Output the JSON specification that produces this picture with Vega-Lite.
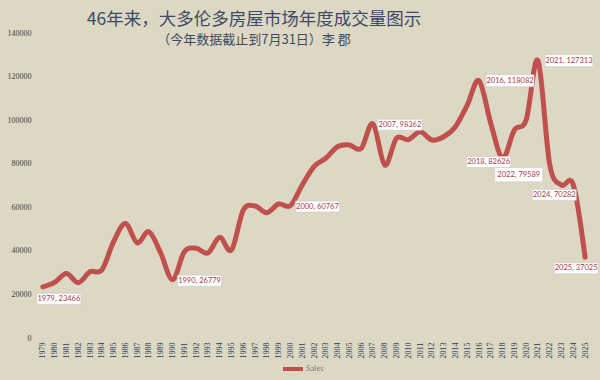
{
  "$schema": "https://vega.github.io/schema/vega-lite/v6.json",
  "width": 554,
  "height": 305,
  "autosize": {"type": "none"},
  "padding": {"left": 37, "top": 33, "right": 9, "bottom": 42},
  "background": "#ddd8c4",
  "title": {
    "text": "46年来，大多伦多房屋市场年度成交量图示",
    "subtitle": "（今年数据截止到7月31日）李 郡",
    "font": "Noto Sans CJK SC",
    "fontSize": 17.5,
    "fontWeight": "normal",
    "color": "#3d4a63",
    "subtitleFont": "Noto Sans CJK SC",
    "subtitleFontSize": 13,
    "subtitleColor": "#3d4a63",
    "subtitlePadding": 6,
    "anchor": "middle",
    "dx": -60,
    "offset": -18
  },
  "config": {"view": {"stroke": null}},
  "data": {
    "values": [
      {"Year": 1979, "Sales": 23466},
      {"Year": 1980, "Sales": 25500},
      {"Year": 1981, "Sales": 29600},
      {"Year": 1982, "Sales": 25400},
      {"Year": 1983, "Sales": 30400},
      {"Year": 1984, "Sales": 31200},
      {"Year": 1985, "Sales": 44200},
      {"Year": 1986, "Sales": 52600},
      {"Year": 1987, "Sales": 43700},
      {"Year": 1988, "Sales": 48800},
      {"Year": 1989, "Sales": 38900},
      {"Year": 1990, "Sales": 26779},
      {"Year": 1991, "Sales": 39600},
      {"Year": 1992, "Sales": 41200},
      {"Year": 1993, "Sales": 39000},
      {"Year": 1994, "Sales": 46200},
      {"Year": 1995, "Sales": 40400},
      {"Year": 1996, "Sales": 58700},
      {"Year": 1997, "Sales": 60600},
      {"Year": 1998, "Sales": 57500},
      {"Year": 1999, "Sales": 61500},
      {"Year": 2000, "Sales": 60767},
      {"Year": 2001, "Sales": 70200},
      {"Year": 2002, "Sales": 78700},
      {"Year": 2003, "Sales": 82500},
      {"Year": 2004, "Sales": 87800},
      {"Year": 2005, "Sales": 88600},
      {"Year": 2006, "Sales": 87000},
      {"Year": 2007, "Sales": 98362},
      {"Year": 2008, "Sales": 79400},
      {"Year": 2009, "Sales": 91700},
      {"Year": 2010, "Sales": 91000},
      {"Year": 2011, "Sales": 94700},
      {"Year": 2012, "Sales": 90900},
      {"Year": 2013, "Sales": 92400},
      {"Year": 2014, "Sales": 97000},
      {"Year": 2015, "Sales": 106900},
      {"Year": 2016, "Sales": 118082},
      {"Year": 2017, "Sales": 98500},
      {"Year": 2018, "Sales": 82626},
      {"Year": 2019, "Sales": 95500},
      {"Year": 2020, "Sales": 100100},
      {"Year": 2021, "Sales": 127313},
      {"Year": 2022, "Sales": 79589},
      {"Year": 2023, "Sales": 70200},
      {"Year": 2024, "Sales": 70282},
      {"Year": 2025, "Sales": 37025}
    ]
  },
  "transform": [{"calculate": "datum.Year + ', ' + datum.Sales", "as": "lab"}],
  "encoding": {
    "x": {
      "field": "Year",
      "type": "ordinal",
      "axis": {
        "title": null,
        "labelAngle": -90,
        "labelFont": "Liberation Serif",
        "labelFontSize": 8,
        "labelColor": "#2b3a55",
        "domain": false,
        "ticks": false,
        "labelPadding": 4
      }
    },
    "y": {
      "field": "Sales",
      "type": "quantitative",
      "scale": {"domain": [0, 140000]},
      "axis": {
        "title": null,
        "values": [0, 20000, 40000, 60000, 80000, 100000, 120000, 140000],
        "format": "d",
        "labelFont": "Liberation Serif",
        "labelFontSize": 8,
        "labelColor": "#404040",
        "domain": false,
        "ticks": false,
        "grid": false,
        "labelPadding": 6
      }
    }
  },
  "layer": [
    {
      "mark": {"type": "line", "interpolate": "cardinal", "strokeWidth": 5, "strokeCap": "round", "strokeJoin": "round"},
      "encoding": {
        "color": {
          "datum": "Sales",
          "scale": {"range": ["#c0504d"]},
          "legend": {
            "title": null,
            "orient": "none",
            "legendX": 244,
            "legendY": 324,
            "symbolType": "stroke",
            "symbolStrokeWidth": 4,
            "symbolSize": 400,
            "labelFont": "Lato",
            "labelFontSize": 8,
            "labelColor": "#808080",
            "labelOffset": 1
          }
        }
      }
    },
    {
      "transform": [{"filter": {"field": "Year", "oneOf": [1990, 2000, 2007]}}],
      "layer": [
        {"mark": {"type": "point", "shape": "M-1,-0.25L1,-0.25L1,0.25L-1,0.25Z", "size": 1936, "fill": "white", "stroke": "#c9c9c9", "strokeWidth": 0.6, "opacity": 1, "fillOpacity": 1, "xOffset": 27, "yOffset": 1}},
        {"mark": {"type": "text", "font": "Lato", "fontSize": 7.5, "color": "#a63a4a", "dx": 27, "dy": 1}, "encoding": {"text": {"field": "lab"}}}
      ]
    },
    {
      "transform": [{"filter": {"field": "Year", "oneOf": [2016, 2021]}}],
      "layer": [
        {"mark": {"type": "point", "shape": "M-1,-0.25L1,-0.25L1,0.25L-1,0.25Z", "size": 2304, "fill": "white", "stroke": "#c9c9c9", "strokeWidth": 0.6, "opacity": 1, "fillOpacity": 1, "xOffset": 31, "yOffset": 0}},
        {"mark": {"type": "text", "font": "Lato", "fontSize": 7.5, "color": "#a63a4a", "dx": 31, "dy": 0}, "encoding": {"text": {"field": "lab"}}}
      ]
    },
    {
      "transform": [{"filter": {"field": "Year", "equal": 1979}}],
      "layer": [
        {"mark": {"type": "point", "shape": "M-1,-0.25L1,-0.25L1,0.25L-1,0.25Z", "size": 1936, "fill": "white", "stroke": "#c9c9c9", "strokeWidth": 0.6, "opacity": 1, "fillOpacity": 1, "xOffset": 16, "yOffset": 12}},
        {"mark": {"type": "text", "font": "Lato", "fontSize": 7.5, "color": "#a63a4a", "dx": 16, "dy": 12}, "encoding": {"text": {"field": "lab"}}}
      ]
    },
    {
      "transform": [{"filter": {"field": "Year", "equal": 2018}}],
      "layer": [
        {"mark": {"type": "point", "shape": "M-1,-0.25L1,-0.25L1,0.25L-1,0.25Z", "size": 1936, "fill": "white", "stroke": "#c9c9c9", "strokeWidth": 0.6, "opacity": 1, "fillOpacity": 1, "xOffset": -14, "yOffset": 4}},
        {"mark": {"type": "text", "font": "Lato", "fontSize": 7.5, "color": "#a63a4a", "dx": -14, "dy": 4}, "encoding": {"text": {"field": "lab"}}}
      ]
    },
    {
      "transform": [{"filter": {"field": "Year", "equal": 2022}}],
      "layer": [
        {"mark": {"type": "point", "shape": "M-1,-0.3L1,-0.3L1,0.3L-1,0.3Z", "size": 2304, "fill": "white", "stroke": "#c9c9c9", "strokeWidth": 0.6, "opacity": 1, "fillOpacity": 1, "xOffset": -31, "yOffset": 10}},
        {"mark": {"type": "text", "font": "Lato", "fontSize": 7.5, "color": "#a63a4a", "dx": -31, "dy": 10}, "encoding": {"text": {"field": "lab"}}}
      ]
    },
    {
      "transform": [{"filter": {"field": "Year", "equal": 2024}}],
      "layer": [
        {"mark": {"type": "point", "shape": "M-1,-0.25L1,-0.25L1,0.25L-1,0.25Z", "size": 1936, "fill": "white", "stroke": "#c9c9c9", "strokeWidth": 0.6, "opacity": 1, "fillOpacity": 1, "xOffset": -19, "yOffset": 10}},
        {"mark": {"type": "text", "font": "Lato", "fontSize": 7.5, "color": "#a63a4a", "dx": -19, "dy": 10}, "encoding": {"text": {"field": "lab"}}}
      ]
    },
    {
      "transform": [{"filter": {"field": "Year", "equal": 2025}}],
      "layer": [
        {"mark": {"type": "point", "shape": "M-1,-0.25L1,-0.25L1,0.25L-1,0.25Z", "size": 1936, "fill": "white", "stroke": "#c9c9c9", "strokeWidth": 0.6, "opacity": 1, "fillOpacity": 1, "xOffset": -9, "yOffset": 11}},
        {"mark": {"type": "text", "font": "Lato", "fontSize": 7.5, "color": "#a63a4a", "dx": -9, "dy": 11}, "encoding": {"text": {"field": "lab"}}}
      ]
    }
  ]
}
